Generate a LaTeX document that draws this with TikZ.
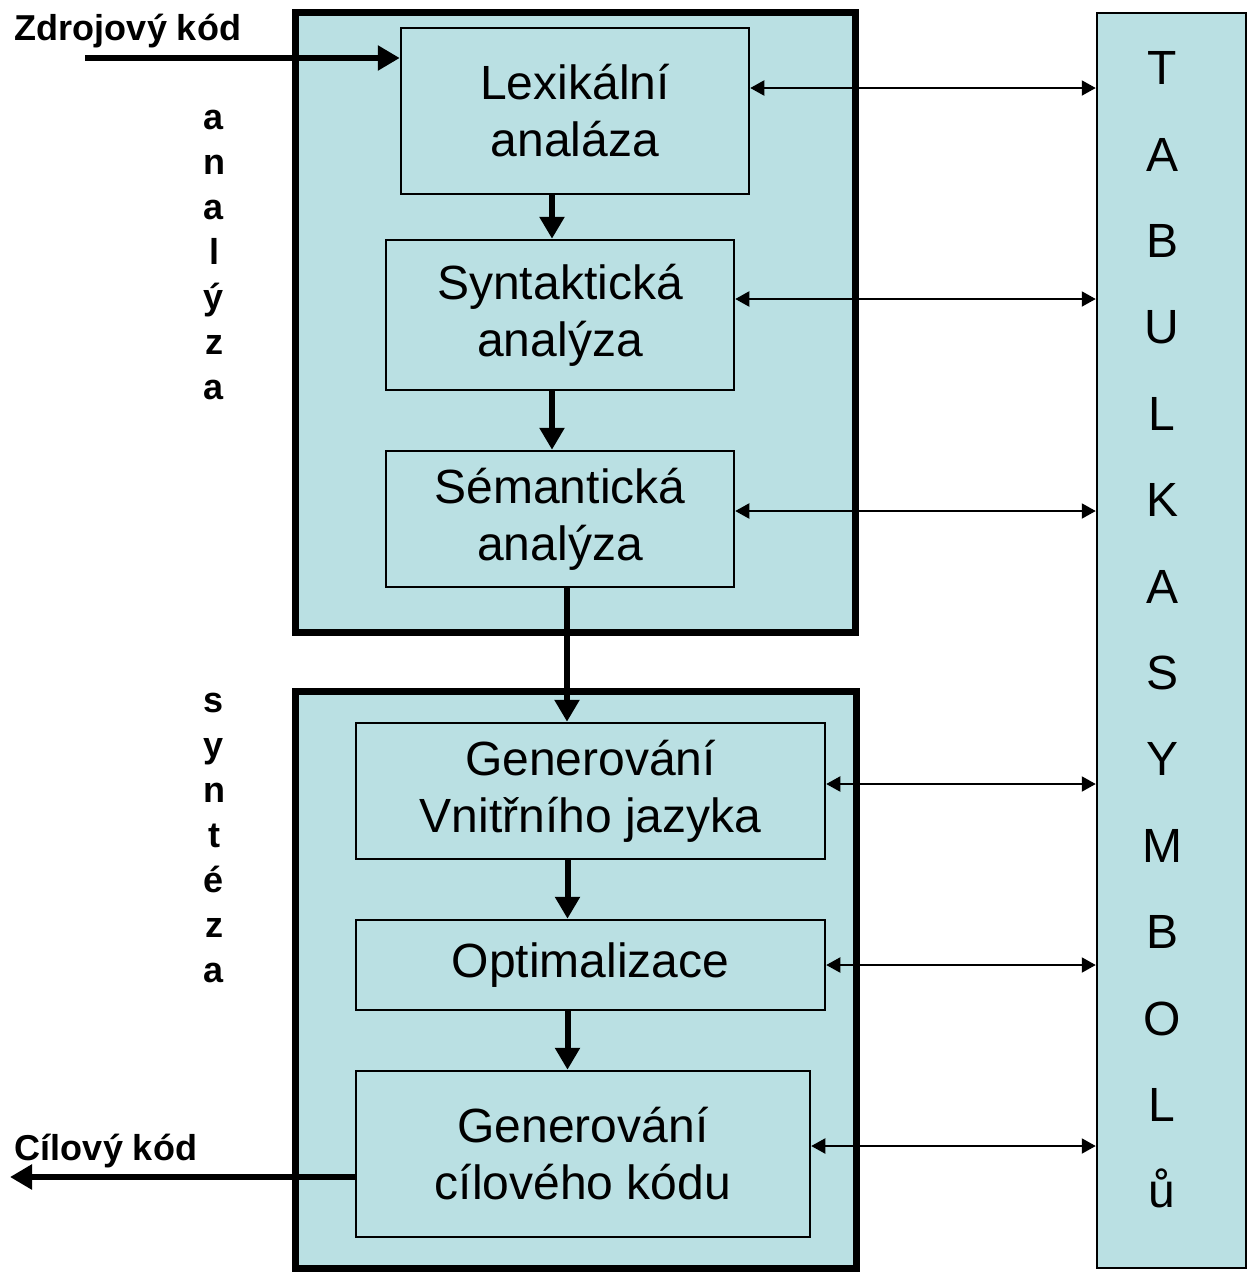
\documentclass[tikz,border=0pt]{standalone}
\usepackage{fontspec}
\setmainfont{Liberation Sans}
\usetikzlibrary{arrows.meta}
\definecolor{panel}{RGB}{186,224,227}
\tikzset{
  phase/.style={
      draw,
      fill=panel,
      line width=7pt,
      inner sep=0pt
  },
  stage/.style={
      draw,
      fill=panel,
      line width=2.5pt,
      inner sep=0pt,
      align=center,
      font=\fontsize{48}{57}\selectfont
  },
  flow/.style={line width=6pt, -{Triangle[length=22pt,width=24pt]}},
  link/.style={line width=2pt, {Triangle[length=14pt,width=15pt]}-{Triangle[length=14pt,width=15pt]}},
  iolabel/.style={font=\bfseries\fontsize{36}{40}\selectfont},
  vword/.style={align=center, font=\bfseries\fontsize{36}{45}\selectfont}
}

\begin{document}
\begin{tikzpicture}[x=1pt,y=-1pt]
	\useasboundingbox (0,0) rectangle (1249,1275);
	% the two phases and the table
	\node[phase, minimum width=560pt, minimum height=620pt] (ana) at (575,322) {};
	\node[phase, minimum width=561pt, minimum height=577pt] (syn) at (575.5,979.5) {};
	\node[draw, fill=panel, line width=2.5pt, inner sep=0pt, minimum width=149pt,
		minimum height=1255pt] (tab) at (1171.5,640.5) {};
	\node[align=center, font=\fontsize{48}{86.4}\selectfont] (tabtext) at (1162,630)
		{T\\A\\B\\U\\L\\K\\A\\S\\Y\\M\\B\\O\\L\\ů};
	% stages
	\node[stage, minimum width=348pt, minimum height=166pt] (lex) at (575,111) {Lexikální\\analáza};
	\node[stage, minimum width=348pt, minimum height=150pt] (stx) at (560,315) {Syntaktická\\analýza};
	\node[stage, minimum width=348pt, minimum height=136pt] (sem) at (560,519) {Sémantická\\analýza};
	\node[stage, minimum width=469pt, minimum height=136pt] (gvj) at (590.5,791) {Generování\\Vnitřního jazyka};
	\node[stage, minimum width=469pt, minimum height=90pt] (opt) at (590.5,965) {Optimalizace};
	\node[stage, minimum width=454pt, minimum height=166pt] (gck) at (583,1154) {Generování\\cílového kódu};
	% side words
	\node[vword] (anaword) at (214,255) {a\\n\\a\\l\\ý\\z\\a};
	\node[vword] (synword) at (214,838) {s\\y\\n\\t\\é\\z\\a};
	\node[iolabel] (srclbl) at (128,31) {Zdrojový kód};
	\node[iolabel] (tgtlbl) at (106,1151) {Cílový kód};
	% flow
	\coordinate (src) at (85,58);
	\coordinate (tgt) at (10,1177);
	\draw[flow] (src) -- (src -| lex.west);
	\draw[flow] ([xshift=-8]lex.south -| stx.north) -- ([xshift=-8]stx.north);
	\draw[flow] ([xshift=-8]stx.south) -- ([xshift=-8]sem.north);
	\draw[flow] ([xshift=7]sem.south) -- ([xshift=7]sem.south |- gvj.north);
	\draw[flow] ([xshift=-23]gvj.south) -- ([xshift=-23]gvj.south |- opt.north);
	\draw[flow] ([xshift=-23]opt.south) -- ([xshift=-23]opt.south |- gck.north);
	\draw[flow] ([yshift=-23]gck.west) -- (tgt);
	% links to the table
	\draw[link] ([yshift=23]lex.east) -- ([yshift=23]lex.east -| tab.west);
	\draw[link] ([yshift=16]stx.east) -- ([yshift=16]stx.east -| tab.west);
	\draw[link] ([yshift=8]sem.east) -- ([yshift=8]sem.east -| tab.west);
	\draw[link] ([yshift=7]gvj.east) -- ([yshift=7]gvj.east -| tab.west);
	\draw[link] (opt.east) -- (opt.east -| tab.west);
	\draw[link] ([yshift=8]gck.east) -- ([yshift=8]gck.east -| tab.west);
\end{tikzpicture}
\end{document}
